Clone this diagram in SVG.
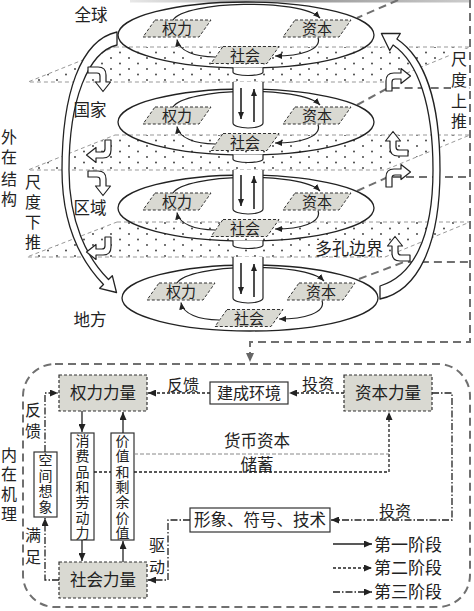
<svg xmlns="http://www.w3.org/2000/svg" width="474" height="611" viewBox="0 0 474 611">
<defs>
<pattern id="dots" width="18" height="11" patternUnits="userSpaceOnUse">
<circle cx="3" cy="3" r="0.9" fill="#333"/>
<circle cx="12" cy="8.5" r="0.9" fill="#333"/>
</pattern>
<marker id="ah" viewBox="0 0 8 7" refX="8" refY="3.5" markerWidth="8" markerHeight="7" markerUnits="userSpaceOnUse" orient="auto"><path d="M0,0 L8,3.5 L0,7 Z" fill="#222"/></marker>
<marker id="ahs" viewBox="0 0 7 6" refX="7" refY="3" markerWidth="7" markerHeight="6" markerUnits="userSpaceOnUse" orient="auto"><path d="M0,0 L7,3 L0,6 Z" fill="#222"/></marker>
<marker id="ahg" viewBox="0 0 9 8" refX="9" refY="4" markerWidth="9" markerHeight="8" markerUnits="userSpaceOnUse" orient="auto"><path d="M0,0 L9,4 L0,8 Z" fill="#666"/></marker>
<path id="bent" d="M0,2 H10 Q18,2 18,10 V17 H22.5 L15,26.5 L7.5,17 H12 V11 Q12,8 9,8 H0 Z"/>
<linearGradient id="band" x1="0" x2="1" y1="0" y2="0">
<stop offset="0" stop-color="#e8e8e8"/><stop offset="0.5" stop-color="#999"/><stop offset="1" stop-color="#ccc"/>
</linearGradient>
</defs>
<style>
.t{font-family:"Noto Sans CJK SC","Noto Sans CJK JP",sans-serif;fill:#222;text-anchor:middle}
.plane{fill:url(#dots);stroke:#999;stroke-width:1;stroke-dasharray:4 3}
.frame{fill:none;stroke:#707070;stroke-width:2;stroke-dasharray:8 5}
.ring{fill:none;stroke:#222;stroke-width:1.3}
.loop{fill:none;stroke:#222;stroke-width:1.2;marker-end:url(#ahs)}
.para{fill:#d9d9d2;stroke:#333;stroke-width:1;stroke-dasharray:3 2}
.cyl{fill:#fff;stroke:#222;stroke-width:1.2}
.cyla{fill:none;stroke:#222;stroke-width:1.6;marker-end:url(#ahs)}
.big{fill:#fff;stroke:#222;stroke-width:1.3;stroke-linejoin:round}
.bent{fill:#fff;stroke:#222;stroke-width:1.2;stroke-linejoin:round}
.box{fill:#fff;stroke:#333;stroke-width:1.2}
.fbox{fill:#d9d9d2;stroke:#333;stroke-width:1.2;stroke-dasharray:3 2}
.s1{fill:none;stroke:#222;stroke-width:1.3;marker-end:url(#ah)}
.s2{fill:none;stroke:#222;stroke-width:1.3;stroke-dasharray:3 2;marker-end:url(#ah)}
.s2n{fill:none;stroke:#222;stroke-width:1.3;stroke-dasharray:3 2}
.s3{fill:none;stroke:#222;stroke-width:1.3;stroke-dasharray:7 2 1.5 2;marker-end:url(#ah)}
.lt{fill:none;stroke:#888;stroke-width:1;stroke-dasharray:4 2}
</style>

<!-- background: dotted planes -->
<g id="planes">
<polygon class="plane" points="115,47 470,47 385,82 28,82"/>
<polygon class="plane" points="115,135 470,135 385,170 28,170"/>
<polygon class="plane" points="117,222 470,222 385,257 27,257"/>
</g>

<!-- frames -->
<g id="frames">
<rect x="130" y="0" width="340" height="2.5" fill="url(#band)"/>
<path class="frame" d="M398,0 L357,18"/>
<path class="frame" d="M357,105 L388,88 H470"/>
<path class="frame" d="M357,191 L388,177 H470"/>
<path class="frame" d="M359,279 L404,262 H470"/>
<path class="frame" d="M470,0 V342 H250 V362" marker-end="url(#ahg)"/>
<rect class="frame" x="23" y="364" width="447" height="243" rx="32" ry="32"/>
</g>

<!-- layer 1 -->
<g id="layer-global">
<ellipse class="ring" cx="246" cy="35" rx="128" ry="33"/>
<g id="g-power"><polygon class="para" points="155,20 211,20 199,37 143,37"/><text class="t" x="177" y="34" font-size="15">权力</text></g>
<g id="g-capital"><polygon class="para" points="295,20 351,20 339,37 283,37"/><text class="t" x="317" y="34" font-size="15">资本</text></g>
<g id="g-society"><polygon class="para" points="223,46.5 279,46.5 267,63.5 211,63.5"/><text class="t" x="245" y="60.5" font-size="15">社会</text></g>
</g>
<!-- layer 2 -->
<g id="layer-nation" transform="translate(0,87)">
<ellipse class="ring" cx="246" cy="35" rx="128" ry="33"/>
<g id="n-power"><polygon class="para" points="155,20 211,20 199,37 143,37"/><text class="t" x="177" y="34" font-size="15">权力</text></g>
<g id="n-capital"><polygon class="para" points="295,20 351,20 339,37 283,37"/><text class="t" x="317" y="34" font-size="15">资本</text></g>
<g id="n-society"><polygon class="para" points="223,46.5 279,46.5 267,63.5 211,63.5"/><text class="t" x="245" y="60.5" font-size="15">社会</text></g>
</g>
<!-- layer 3 -->
<g id="layer-region" transform="translate(0,173)">
<ellipse class="ring" cx="246" cy="35" rx="128" ry="33"/>
<g id="r-power"><polygon class="para" points="155,20 211,20 199,37 143,37"/><text class="t" x="177" y="34" font-size="15">权力</text></g>
<g id="r-capital"><polygon class="para" points="295,20 351,20 339,37 283,37"/><text class="t" x="317" y="34" font-size="15">资本</text></g>
<g id="r-society"><polygon class="para" points="223,46.5 279,46.5 267,63.5 211,63.5"/><text class="t" x="245" y="60.5" font-size="15">社会</text></g>
</g>
<!-- layer 4 -->
<g id="layer-local" transform="translate(4,263)">
<ellipse class="ring" cx="246" cy="35" rx="128" ry="33"/>
<g id="l-power"><polygon class="para" points="155,20 211,20 199,37 143,37"/><text class="t" x="177" y="34" font-size="15">权力</text></g>
<g id="l-capital"><polygon class="para" points="295,20 351,20 339,37 283,37"/><text class="t" x="317" y="34" font-size="15">资本</text></g>
<g id="l-society"><polygon class="para" points="223,46.5 279,46.5 267,63.5 211,63.5"/><text class="t" x="245" y="60.5" font-size="15">社会</text></g>
</g>

<!-- bottom nodes -->
<g id="power-force"><rect class="fbox" x="59" y="375" width="88" height="36"/><text class="t" x="103" y="399" font-size="16.5">权力力量</text></g>
<g id="capital-force"><rect class="fbox" x="344" y="375" width="88" height="36"/><text class="t" x="388" y="399" font-size="16.5">资本力量</text></g>
<g id="society-force"><rect class="fbox" x="59" y="562" width="88" height="36"/><text class="t" x="103" y="586" font-size="16.5">社会力量</text></g>
<g id="built-env"><rect class="box" x="210" y="382" width="78" height="22"/><text class="t" x="249" y="398.5" font-size="16">建成环境</text></g>
<g id="image-tech"><rect class="box" x="190" y="508" width="140" height="24"/><text class="t" x="260" y="526" font-size="16.5">形象、符号、技术</text></g>
<g id="consumer"><rect class="box" x="71" y="433" width="23" height="107"/>
<text class="t" font-size="14"><tspan x="82.5" y="446">消</tspan><tspan x="82.5" y="461.3">费</tspan><tspan x="82.5" y="476.6">品</tspan><tspan x="82.5" y="491.9">和</tspan><tspan x="82.5" y="507.2">劳</tspan><tspan x="82.5" y="522.5">动</tspan><tspan x="82.5" y="537.8">力</tspan></text></g>
<g id="value"><rect class="box" x="111" y="433" width="23" height="107"/>
<text class="t" font-size="14"><tspan x="122.5" y="446">价</tspan><tspan x="122.5" y="461.3">值</tspan><tspan x="122.5" y="476.6">和</tspan><tspan x="122.5" y="491.9">剩</tspan><tspan x="122.5" y="507.2">余</tspan><tspan x="122.5" y="522.5">价</tspan><tspan x="122.5" y="537.8">值</tspan></text></g>
<g id="imagination"><rect class="box" x="34" y="452" width="23" height="65"/>
<text class="t" font-size="14"><tspan x="45.5" y="465">空</tspan><tspan x="45.5" y="480.5">间</tspan><tspan x="45.5" y="496">想</tspan><tspan x="45.5" y="511.5">象</tspan></text></g>

<!-- connectors -->
<g id="connectors">
<g id="loops-global">
<path class="loop" d="M173,20 C 185,1 300,-2 320,18"/>
<path class="loop" d="M318,37.5 C 322,50 300,56 275,56"/>
<path class="loop" d="M215,57 C 195,57 179,51 177,39.5"/>
</g>
<g id="loops-nation" transform="translate(0,87)">
<path class="loop" d="M173,20 C 185,1 300,-2 320,18"/>
<path class="loop" d="M318,37.5 C 322,50 300,56 275,56"/>
<path class="loop" d="M215,57 C 195,57 179,51 177,39.5"/>
</g>
<g id="loops-region" transform="translate(0,173)">
<path class="loop" d="M173,20 C 185,1 300,-2 320,18"/>
<path class="loop" d="M318,37.5 C 322,50 300,56 275,56"/>
<path class="loop" d="M215,57 C 195,57 179,51 177,39.5"/>
</g>
<g id="loops-local" transform="translate(4,263)">
<path class="loop" d="M173,20 C 185,1 300,-2 320,18"/>
<path class="loop" d="M318,37.5 C 322,50 300,56 275,56"/>
<path class="loop" d="M215,57 C 195,57 179,51 177,39.5"/>
</g>
<!-- cylinders -->
<path class="cyl" d="M233,67.5 V72 A15,3.5 0 0 0 263,72 V67.5"/>
<path class="cyl" d="M233,82 V123 A15,5 0 0 0 263,123 V82"/>
<path class="cyla" d="M241,88 V119"/><path class="cyla" d="M254,122 V89"/>
<path class="cyl" d="M233,154.5 V159 A15,3.5 0 0 0 263,159 V154.5"/>
<path class="cyl" d="M233,170 V209 A15,5 0 0 0 263,209 V170"/>
<path class="cyla" d="M241,175 V206"/><path class="cyla" d="M254,209 V176"/>
<path class="cyl" d="M233,240.5 V245 A15,3.5 0 0 0 263,245 V240.5"/>
<path class="cyl" d="M233,257 V298 A15,5 0 0 0 263,298 V257"/>
<path class="cyla" d="M241,263 V294"/><path class="cyla" d="M254,297 V264"/>
<!-- big hollow arrows -->
<path class="big" d="M117,32 C 80,40 62,95 62,170 C 62,222 78,258 103.5,284.5 L99.7,288.3 L116.5,292.5 L112.3,275.7 L108.5,279.5 C 87,258 69,222 69,170 C 69,100 88,52 117,45 Z"/>
<path class="big" d="M380,286 C 412,276 433,240 433,170 C 433,105 418,62 393.1,45 L389.7,50.5 L381.4,33.5 L400.3,33.5 L396.9,39 C 424,57 440,100 440,170 C 440,245 418,291 380,299 Z"/>
<!-- small bent arrows -->
<use href="#bent" class="bent" transform="translate(99,78) translate(-11,-13)"/>
<use href="#bent" class="bent" transform="translate(100,151) rotate(90) translate(-11,-13)"/>
<use href="#bent" class="bent" transform="translate(99,182) translate(-11,-13)"/>
<use href="#bent" class="bent" transform="translate(100,248) rotate(90) translate(-11,-13)"/>
<use href="#bent" class="bent" transform="translate(397,80) rotate(-90) translate(-11,-13)"/>
<use href="#bent" class="bent" transform="translate(397,145) rotate(180) translate(-11,-13)"/>
<use href="#bent" class="bent" transform="translate(397,176) rotate(-90) translate(-11,-13)"/>
<use href="#bent" class="bent" transform="translate(399,250) rotate(180) translate(-11,-13)"/>
<!-- lower mechanism -->
<path class="s1" d="M82,411 V432"/>
<path class="s1" d="M82,540 V561"/>
<path class="s1" d="M123,562 V541"/>
<path class="s1" d="M123,433 V412"/>
<path class="s2" d="M344,393 H289"/>
<path class="s2" d="M210,393 H148"/>
<path class="s2n" d="M94,472 H111"/>
<path class="s2" d="M134,472 H389 V412"/>
<path class="lt" d="M134,454 H389"/>
<path class="s3" d="M432,393 H452 V520 H331"/>
<path class="s3" d="M190,520 H168 V580 H148"/>
<path class="s3" d="M45,452 V393 H58"/>
<path class="s3" d="M59,580 H45 V518"/>
<!-- legend -->
<path class="s1" d="M333,544 H372"/>
<path class="s2" d="M333,568 H372"/>
<path class="s3" d="M333,592 H372"/>
</g>

<!-- labels -->
<g id="labels">
<text class="t" x="91" y="21" font-size="16.5">全球</text>
<text class="t" x="90" y="116" font-size="16.5">国家</text>
<text class="t" x="90" y="214" font-size="16.5">区域</text>
<text class="t" x="90" y="326" font-size="16.5">地方</text>
<text class="t" font-size="16"><tspan x="9" y="143">外</tspan><tspan x="9" y="163">在</tspan><tspan x="9" y="185">结</tspan><tspan x="9" y="205">构</tspan></text>
<text class="t" font-size="16"><tspan x="33" y="188">尺</tspan><tspan x="33" y="208">度</tspan><tspan x="33" y="228">下</tspan><tspan x="33" y="248">推</tspan></text>
<rect x="451" y="49" width="17" height="81" fill="#fff"/>
<text class="t" font-size="16"><tspan x="459" y="65">尺</tspan><tspan x="459" y="86">度</tspan><tspan x="459" y="107">上</tspan><tspan x="459" y="127">推</tspan></text>
<rect x="314" y="240" width="71" height="16" fill="#fff"/>
<text class="t" x="349" y="255" font-size="17">多孔边界</text>
<text class="t" font-size="16"><tspan x="9" y="461">内</tspan><tspan x="9" y="480">在</tspan><tspan x="9" y="500">机</tspan><tspan x="9" y="520">理</tspan></text>
<text class="t" font-size="16"><tspan x="33" y="416">反</tspan><tspan x="33" y="437">馈</tspan></text>
<text class="t" font-size="16"><tspan x="33" y="541">满</tspan><tspan x="33" y="563">足</tspan></text>
<text class="t" font-size="16"><tspan x="157" y="551">驱</tspan><tspan x="157" y="573">动</tspan></text>
<text class="t" x="318" y="390" font-size="16">投资</text>
<text class="t" x="183" y="391" font-size="16">反馈</text>
<text class="t" x="395" y="517" font-size="16">投资</text>
<text class="t" x="257" y="447" font-size="16.5">货币资本</text>
<text class="t" x="257" y="471" font-size="16.5">储蓄</text>
<text class="t" x="374" y="551" font-size="17" style="text-anchor:start">第一阶段</text>
<text class="t" x="374" y="574" font-size="17" style="text-anchor:start">第二阶段</text>
<text class="t" x="374" y="598" font-size="17" style="text-anchor:start">第三阶段</text>
</g>
</svg>
